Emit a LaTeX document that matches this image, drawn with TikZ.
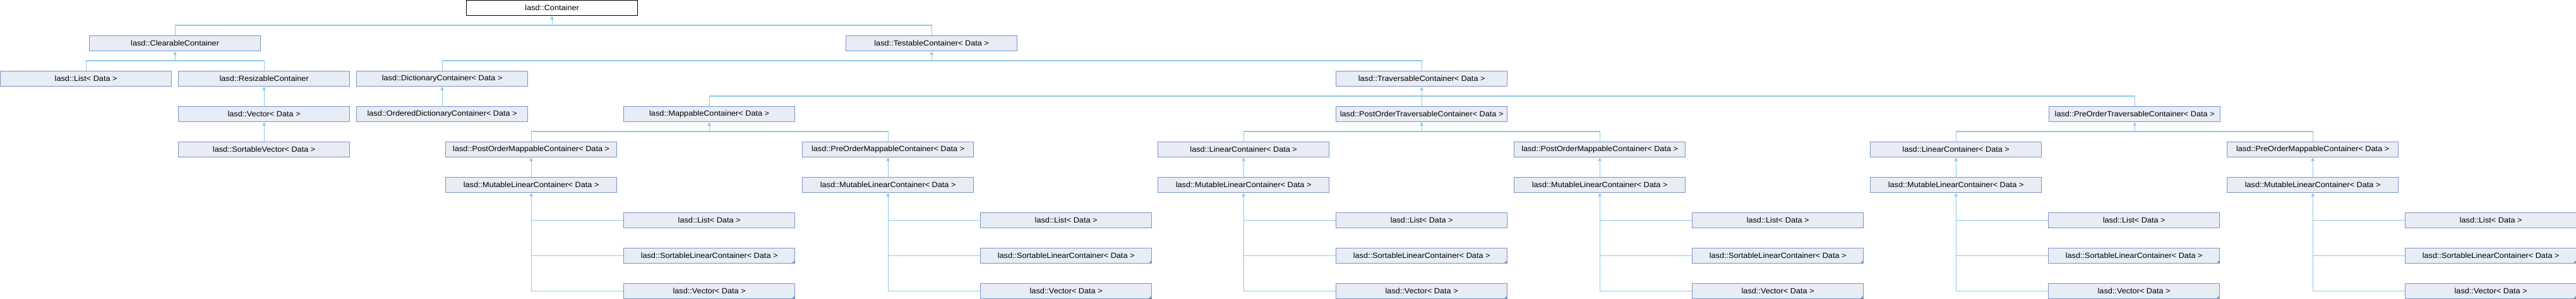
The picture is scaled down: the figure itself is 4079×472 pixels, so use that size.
\documentclass[tikz,border=0pt]{standalone}
\usepackage{fontspec}
\setmainfont{Liberation Sans}[FakeStretch=1.06]
\usetikzlibrary{arrows.meta}
\definecolor{boxfill}{HTML}{E8ECF4}
\definecolor{boxline}{HTML}{7C93C9}
\definecolor{edgeblue}{HTML}{8DC9E8}
\tikzset{
    cls/.style={draw=boxline, fill=boxfill, line width=0.37pt, anchor=north west,
        minimum width=27.1mm, minimum height=2.4mm, inner sep=0pt,
        font=\fontsize{3.41pt}{4pt}\selectfont},
    root/.style={cls, draw=black, fill=white},
    more/.style={path picture={\fill[boxline] (path picture bounding box.south east)
        -- ++(-1.5pt,0) -- ++(1.5pt,1.5pt) -- cycle;}},
    link/.style={draw=edgeblue, line width=0.3pt},
    inh/.style={link, -{Triangle[width=1.5pt,length=1.5pt]}},
}
\begin{document}
\begin{tikzpicture}[x=0.1mm, y=-0.1mm]
    \useasboundingbox (0,0) rectangle (4079,472);

    % upper part of the tree
    \node[root] (cont) at (738,0) {lasd::Container};
    \node[cls] (clear) at (141,56) {lasd::ClearableContainer};
    \node[cls] (test) at (1339,56) {lasd::TestableContainer< Data >};

    \node[cls] (list) at (0,112) {lasd::List< Data >};
    \node[cls] (resiz) at (282,112) {lasd::ResizableContainer};
    \node[cls] (dict) at (564,112) {lasd::DictionaryContainer< Data >};
    \node[cls] (trav) at (2115,112) {lasd::TraversableContainer< Data >};

    \node[cls] (vec) at (282,168) {lasd::Vector< Data >};
    \node[cls] (odict) at (564,168) {lasd::OrderedDictionaryContainer< Data >};
    \node[cls] (map) at (987,168) {lasd::MappableContainer< Data >};
    \node[cls] (potrav) at (2115,168) {lasd::PostOrderTraversableContainer< Data >};
    \node[cls] (prtrav) at (3244,168) {lasd::PreOrderTraversableContainer< Data >};

    \node[cls] (svec) at (282,224) {lasd::SortableVector< Data >};
    \node[cls] (pomap) at (705,224) {lasd::PostOrderMappableContainer< Data >};
    \node[cls] (prmap) at (1270,224) {lasd::PreOrderMappableContainer< Data >};
    \node[cls] (lin) at (1833,224) {lasd::LinearContainer< Data >};
    \node[cls] (pomap2) at (2397,224) {lasd::PostOrderMappableContainer< Data >};
    \node[cls] (lin2) at (2961,224) {lasd::LinearContainer< Data >};
    \node[cls] (prmap2) at (3526,224) {lasd::PreOrderMappableContainer< Data >};

    % buses and arrows
    \draw[link] (clear.north) -- ++(0,-16) -| (test.north);
    \draw[inh] (cont.south |- clear.north) ++(0,-16) -- (cont.south);
    \draw[link] (list.north) -- ++(0,-16) -| (resiz.north);
    \draw[inh] (clear.south |- list.north) ++(0,-16) -- (clear.south);
    \draw[link] (dict.north) -- ++(0,-16) -| (trav.north);
    \draw[inh] (test.south |- dict.north) ++(0,-16) -- (test.south);
    \draw[inh] (vec.north) -- (resiz.south);
    \draw[inh] (svec.north) -- (vec.south);
    \draw[inh] (odict.north) -- (dict.south);
    \draw[link] (map.north) -- ++(0,-16) -| (prtrav.north);
    \draw[inh] (potrav.north) -- (trav.south);
    \draw[link] (pomap.north) -- ++(0,-16) -| (prmap.north);
    \draw[inh] (map.south |- pomap.north) ++(0,-16) -- (map.south);
    \draw[link] (lin.north) -- ++(0,-16) -| (pomap2.north);
    \draw[inh] (potrav.south |- lin.north) ++(0,-16) -- (potrav.south);
    \draw[link] (lin2.north) -- ++(0,-16) -| (prmap2.north);
    \draw[inh] (prtrav.south |- lin2.north) ++(0,-16) -- (prtrav.south);

    % mutable linear containers and their children
    \foreach \up/\g/\px in {pomap/a/705, prmap/b/1270, lin/c/1833,
                            pomap2/d/2397, lin2/e/2961, prmap2/f/3526} {
        \node[cls] (mlin\g) at (\px,280) {lasd::MutableLinearContainer< Data >};
        \node[cls] (lst\g) at (\px+282,336) {lasd::List< Data >};
        \node[cls, more] (slc\g) at (\px+282,392) {lasd::SortableLinearContainer< Data >};
        \node[cls, more] (vct\g) at (\px+282,448) {lasd::Vector< Data >};
        \draw[inh] (mlin\g.north) -- (\up.south);
        \draw[inh] (mlin\g.south |- vct\g.west) -- (mlin\g.south);
        \foreach \c in {lst,slc,vct}
            \draw[link] (mlin\g.south |- \c\g.west) -- (\c\g.west);
    }
\end{tikzpicture}
\end{document}
